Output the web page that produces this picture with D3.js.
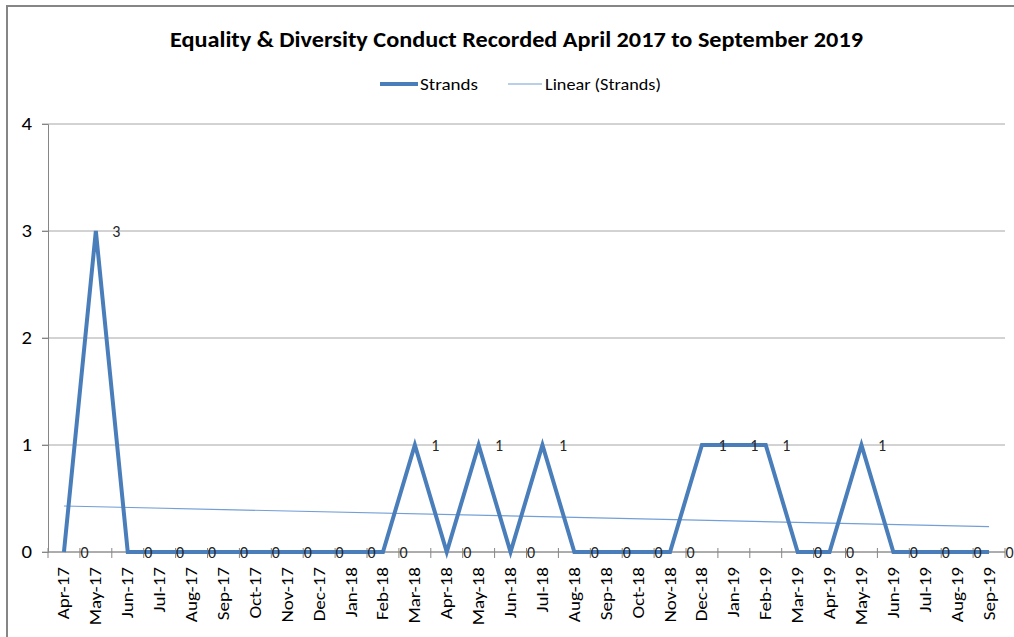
<!DOCTYPE html>
<html><head><meta charset="utf-8">
<script src="https://cdn.jsdelivr.net/npm/d3@7"></script>
<style>
body{margin:0;background:#fff;}
text{font-family:Carlito,Calibri,Lato,"Liberation Sans",sans-serif;}
</style></head>
<body><svg id="c" width="1014" height="637"></svg>
<script>
const months = ["Apr-17","May-17","Jun-17","Jul-17","Aug-17","Sep-17","Oct-17","Nov-17","Dec-17","Jan-18","Feb-18","Mar-18","Apr-18","May-18","Jun-18","Jul-18","Aug-18","Sep-18","Oct-18","Nov-18","Dec-18","Jan-19","Feb-19","Mar-19","Apr-19","May-19","Jun-19","Jul-19","Aug-19","Sep-19"];
const strands = [0,3,0,0,0,0,0,0,0,0,0,1,0,1,0,1,0,0,0,0,1,1,1,0,0,1,0,0,0,0];
const yTicks = [0,1,2,3,4];
const title = "Equality & Diversity Conduct Recorded April 2017 to September 2019";
const legendNames = ["Strands","Linear (Strands)"];

const svg = d3.select("#c");
const blue = "#4a7ebb", trendBlue = "#739fd6";
const L = 48, R = 1005, T = 124, B = 552;

function stretch(sel, factor){
  sel.each(function(){
    const n = this.getComputedTextLength();
    d3.select(this).attr("textLength", n*factor).attr("lengthAdjust","spacingAndGlyphs");
  });
}

svg.append("rect").attr("x",7).attr("y",6).attr("width",1020).attr("height",650)
  .attr("fill","#fff").attr("stroke","#868686").attr("stroke-width",2);

const x = d3.scaleBand().domain(months).range([L,R]).padding(0);
const y = d3.scaleLinear().domain([0,4]).range([B,T]);

// gridlines
svg.append("g").selectAll("line").data(yTicks).join("line")
  .attr("x1",L-6).attr("x2",R).attr("y1",d=>y(d)).attr("y2",d=>y(d))
  .attr("stroke","#a6a6a6").attr("stroke-width",1);

// y axis
const ya = svg.append("g").attr("transform",`translate(${L},0)`)
  .call(d3.axisLeft(y).tickValues(yTicks).tickSize(6).tickPadding(10).tickFormat(d3.format("d")));
ya.select(".domain").attr("stroke","#868686");
ya.selectAll(".tick line").attr("stroke","#868686");
ya.selectAll("text").attr("font-size",18).attr("fill","#000").attr("font-family","Carlito,Calibri,Lato,sans-serif");
stretch(ya.selectAll("text"),1.15);

// x axis
const xa = svg.append("g").attr("transform",`translate(0,${B})`);
xa.append("line").attr("x1",L).attr("x2",R).attr("stroke","#868686");
const bounds = months.map(m=>x(m)).concat([R]);
xa.selectAll(".tk").data(bounds).join("line").attr("class","tk")
  .attr("x1",d=>d).attr("x2",d=>d).attr("y1",-4).attr("y2",6).attr("stroke","#868686");
const xl = xa.selectAll(".lb").data(months).join("text").attr("class","lb")
  .attr("transform",d=>`translate(${x(d)+x.bandwidth()/2+5.5},15) rotate(-90)`)
  .attr("text-anchor","end").attr("font-size",17).attr("fill","#000").text(d=>d);
stretch(xl,1.12);

// trendline (least squares fit of the series)
const n = strands.length;
const mx = d3.mean(d3.range(n)), my = d3.mean(strands);
const sxy = d3.sum(strands,(v,i)=>(i-mx)*(v-my)), sxx = d3.sum(d3.range(n),i=>(i-mx)**2);
const slope = sxy/sxx, icpt = my - slope*mx;
const cx = i => x(months[i])+x.bandwidth()/2;
svg.append("line").attr("x1",cx(0)).attr("x2",cx(n-1))
  .attr("y1",y(icpt)).attr("y2",y(icpt+slope*(n-1)))
  .attr("stroke",trendBlue).attr("stroke-width",1.2);

// series line
svg.append("path").datum(strands)
  .attr("d",d3.line().x((d,i)=>cx(i)).y(d=>y(d)))
  .attr("fill","none").attr("stroke",blue).attr("stroke-width",4).attr("stroke-linejoin","miter");

// data labels
svg.append("g").selectAll("text").data(strands).join("text")
  .attr("x",(d,i)=>cx(i)+20.5).attr("y",d=>y(d)).attr("dy","0.35em")
  .attr("text-anchor","middle").attr("font-size",16).attr("fill","#262626").text(d=>d);

// title
svg.append("text").attr("x",516.5).attr("y",47).attr("text-anchor","middle")
  .attr("font-size",22).attr("font-weight","bold").attr("fill","#000")
  .attr("textLength",693).attr("lengthAdjust","spacingAndGlyphs").text(title);

// legend
const lg = svg.append("g").attr("transform","translate(0,84)");
lg.append("line").attr("x1",380).attr("x2",418).attr("stroke",blue).attr("stroke-width",4);
lg.append("text").attr("x",420).attr("y",0).attr("dy","0.35em").attr("font-size",17)
  .attr("textLength",58).attr("lengthAdjust","spacingAndGlyphs").text(legendNames[0]);
lg.append("line").attr("x1",508).attr("x2",542).attr("stroke",trendBlue).attr("stroke-width",1.2);
lg.append("text").attr("x",545).attr("y",0).attr("dy","0.35em").attr("font-size",17)
  .attr("textLength",116).attr("lengthAdjust","spacingAndGlyphs").text(legendNames[1]);
</script></body></html>
